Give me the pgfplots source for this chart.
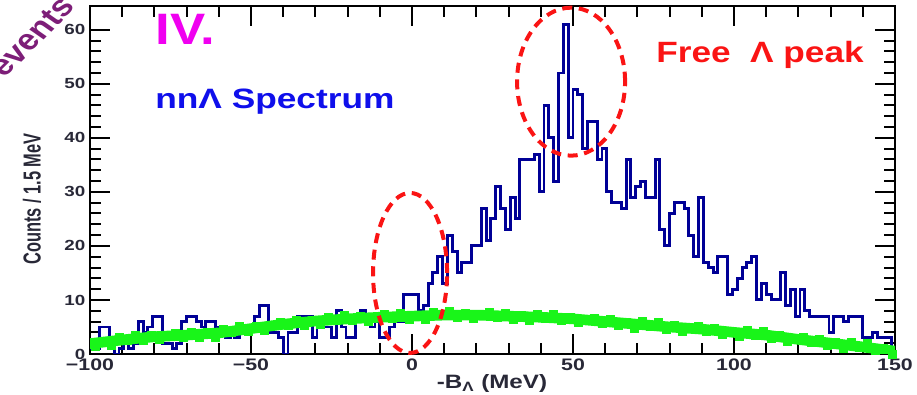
\documentclass[border=0pt]{standalone}
\usepackage{fontspec}
\setmainfont{Liberation Sans}
\usepackage{graphicx}
\usepackage{pgfplots}
\pgfplotsset{compat=1.18}

\definecolor{histblue}{RGB}{0,0,150}
\definecolor{bkggreen}{RGB}{25,245,25}
\definecolor{ringred}{RGB}{250,20,20}
\definecolor{labeldark}{RGB}{40,40,55}
\definecolor{titlemag}{RGB}{240,0,240}
\definecolor{specblue}{RGB}{15,15,235}
\definecolor{evpurple}{RGB}{125,30,120}

\newcommand{\wide}[1]{\scalebox{1.28}[1]{#1}}

\begin{document}
\begin{tikzpicture}
\useasboundingbox (0pt,0pt) rectangle (687.75pt,296.25pt);

\begin{axis}[
  at={(67.5pt,30.75pt)}, anchor=south west,
  scale only axis, width=603.75pt, height=261pt,
  xmin=-100, xmax=150, ymin=0, ymax=64.4,
  axis line style={line width=1.6pt, black},
  every tick/.append style={black, line width=1.5pt},
  major tick length=15pt, minor tick length=8pt,
  xtick={-100,-50,0,50,100,150},
  xticklabels={\wide{−100},\wide{−50},\wide{0},\wide{50},\wide{100},\wide{150}},
  minor x tick num=4,
  ytick={0,10,20,30,40,50,60},
  yticklabels={\wide{0},\wide{10},\wide{20},\wide{30},\wide{40},\wide{50},\wide{60}},
  minor y tick num=4,
  xticklabel style={font=\fontsize{12.5pt}{14pt}\selectfont\bfseries, text=labeldark},
  yticklabel style={font=\fontsize{11pt}{12pt}\selectfont\bfseries, text=labeldark},
]

% signal-region spectrum, 1.5 MeV bins
\addplot[const plot mark left, histblue, line width=2.2pt, line join=miter] coordinates {
(-100,1) (-98.5,1) (-97,5) (-95.5,5) (-94,1) (-92.5,0) (-91,1) (-89.5,2) (-88,1) (-86.5,2)
(-85,6) (-83.5,4) (-82,5) (-80.5,7) (-79,7) (-77.5,2) (-76,2) (-74.5,1) (-73,2) (-71.5,6)
(-70,7) (-68.5,7) (-67,6) (-65.5,5) (-64,6) (-62.5,6) (-61,5) (-59.5,5) (-58,3) (-56.5,4)
(-55,3) (-53.5,4) (-52,4) (-50.5,5) (-49,7) (-47.5,9) (-46,9) (-44.5,4) (-43,4) (-41.5,3)
(-40,0) (-38.5,4) (-37,4) (-35.5,7) (-34,7) (-32.5,7) (-31,3) (-29.5,5) (-28,5) (-26.5,5)
(-25,3) (-23.5,8) (-22,5) (-20.5,3) (-19,3) (-17.5,6) (-16,8) (-14.5,6) (-13,5) (-11.5,6)
(-10,3) (-8.5,3) (-7,5) (-5.5,6) (-4,6) (-2.5,11) (-1,11) (0.5,11) (2,8) (3.5,9)
(5,13) (6.5,15) (8,18) (9.5,13) (11,22) (12.5,19) (14,15) (15.5,17) (17,17) (18.5,20)
(20,20) (21.5,27) (23,21) (24.5,25) (26,31) (27.5,27) (29,23) (30.5,29) (32,25) (33.5,36)
(35,36) (36.5,36) (38,37) (39.5,30) (41,46) (42.5,40) (44,32) (45.5,52) (47,61) (48.5,40)
(50,49) (51.5,48) (53,38) (54.5,43) (56,43) (57.5,36) (59,38) (60.5,30) (62,28) (63.5,28)
(65,27) (66.5,36) (68,29) (69.5,31) (71,32) (72.5,29) (74,29) (75.5,36) (77,23) (78.5,20)
(80,26) (81.5,28) (83,28) (84.5,27) (86,22) (87.5,18) (89,29) (90.5,17) (92,16) (93.5,15)
(95,18) (96.5,18) (98,11) (99.5,12) (101,14) (102.5,16) (104,17) (105.5,18) (107,10) (108.5,13)
(110,11) (111.5,10) (113,10) (114.5,15) (116,9) (117.5,12) (119,7) (120.5,12) (122,8) (123.5,7)
(125,7) (126.5,7) (128,7) (129.5,4) (131,7) (132.5,7) (134,6) (135.5,7) (137,7) (138.5,7)
(140,3) (141.5,3) (143,4) (144.5,3) (146,3) (147.5,3) (149,0)
};

% background estimate: broad band
\addplot[bkggreen, line width=8pt, line cap=round] coordinates {
(-101,1.85) (-90,2.6) (-80,3.2) (-70,3.5) (-60,3.9) (-50,4.7) (-40,5.5) (-30,6.1) (-20,6.5)
(-10,6.8) (0,7.0) (10,7.2) (20,7.2) (30,7.0) (40,6.8) (50,6.5) (60,6.0) (70,5.5) (80,5.0)
(90,4.6) (100,4.0) (110,3.5) (120,2.7) (130,2.0) (140,1.3) (151,0.45)
};
% background estimate: individual points
\addplot[only marks, mark=square*, mark size=3pt, bkggreen] coordinates {
(-101,2.35) (-98.5,1.5) (-96,2.35) (-93.5,1.65) (-91,3.15) (-88.5,2.6) (-86,3.55) (-83.5,2.6)
(-81,3.45) (-78.5,2.65) (-76,3.4) (-73.5,3.9) (-71,3.15) (-68.5,4.05) (-66,3.15) (-63.5,3.95)
(-61,3.15) (-58.5,4.6) (-56,4.1) (-53.5,5.1) (-51,4.2) (-48.5,5.1) (-46,4.4) (-43.5,5.3)
(-41,5.9) (-38.5,5.3) (-36,6.25) (-33.5,5.4) (-31,6.25) (-28.5,5.45) (-26,6.85) (-23.5,6.25)
(-21,7.15) (-18.5,6.15) (-16,6.9) (-13.5,6.1) (-11,6.85) (-8.5,7.35) (-6,6.6) (-3.5,7.45)
(-1,6.5) (1.5,7.25) (4,6.4) (6.5,7.75) (9,7.1) (11.5,7.9) (14,6.8) (16.5,7.5) (19,6.6)
(21.5,7.3) (24,7.65) (26.5,6.8) (29,7.55) (31.5,6.5) (34,7.15) (36.5,6.2) (39,7.4) (41.5,6.65)
(44,7.4) (46.5,6.2) (49,6.8) (51.5,5.8) (54,6.4) (56.5,6.7) (59,5.75) (61.5,6.4) (64,5.25)
(66.5,5.85) (69,4.85) (71.5,6.0) (74,5.2) (76.5,5.9) (79,4.65) (81.5,5.25) (84,4.25) (86.5,4.85)
(89,5.15) (91.5,4.2) (94,4.85) (96.5,3.7) (99,4.25) (101.5,3.25) (104,4.4) (106.5,3.55)
(109,4.25) (111.5,3.0) (114,3.5) (116.5,2.4) (119,2.9) (121.5,3.1) (124,2.15) (126.5,2.75)
(129,1.6) (131.5,2.1) (134,1.05) (136.5,2.15) (139,1.3) (141.5,1.9) (144,0.6) (146.5,1.1)
(149,0.0) (151,0.55)
};

% centres of the highlighted regions
\coordinate (ringA) at (axis cs:-0.6,15.0);
\coordinate (ringB) at (axis cs:49.4,50.4);
\end{axis}

% highlighted regions
\draw[ringred, line width=3pt, dash pattern=on 7.5pt off 5pt]
  (ringA) ellipse [x radius=27.75pt, y radius=60pt];
\draw[ringred, line width=3pt, dash pattern=on 7.5pt off 5pt]
  (ringB) ellipse [x radius=40.5pt, y radius=55.5pt];

\begin{scope}[x=0.75pt,y=0.75pt]
% axis titles
\node[font=\fontsize{12.3pt}{14pt}\selectfont\bfseries, text=labeldark, xscale=1.5, rotate=90]
  at (32,196) {Counts / 1.5 MeV};
\node[font=\fontsize{14.5pt}{16pt}\selectfont\bfseries, text=labeldark, xscale=1.25, anchor=base]
  at (492,6) {-B\textsubscript{Λ} (MeV)};

% panel annotations
\node[font=\fontsize{33pt}{36pt}\selectfont\bfseries, text=titlemag, xscale=1.2, anchor=base west, inner sep=0pt]
  at (155,350) {IV.};
\node[font=\fontsize{21pt}{24pt}\selectfont\bfseries, text=specblue, xscale=1.26, anchor=base west, inner sep=0pt]
  at (155,286) {nnΛ Spectrum};
\node[font=\fontsize{22pt}{25pt}\selectfont\bfseries, text=ringred, xscale=1.2, anchor=base west, inner sep=0pt]
  at (656,332) {Free \ Λ peak};
\node[font=\fontsize{22pt}{25pt}\selectfont\bfseries, text=evpurple, xscale=1.2, rotate=50]
  at (32,358) {events};
\end{scope}
\end{tikzpicture}
\end{document}
